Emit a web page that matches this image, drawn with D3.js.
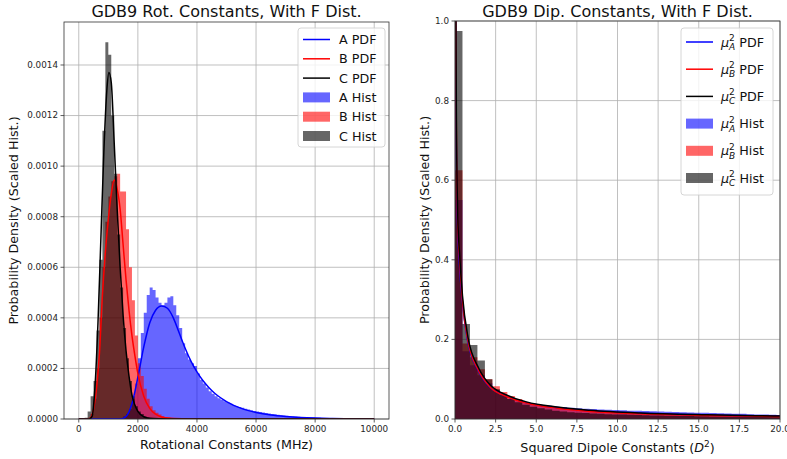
<!DOCTYPE html>
<html>
<head>
<meta charset="utf-8">
<script src="https://cdn.jsdelivr.net/npm/d3@7"></script>
<style>
  body { margin: 0; background: #fff; }
  svg { display: block; font-family: "DejaVu Sans", sans-serif; }
</style>
</head>
<body>
<div id="root"></div>
<script>
// ---- rotational constants: histograms, 100 MHz bins from 0 to 10000 (values x 1e-4) ----
const rotBinWidth = 100;
const rotHistA = [
  0, 0, 0, 0, 0, 0, 0, 0, 0, 0,
  0, 0, 0, 0, 0, 0.1, 0.2, 0.4, 0.8, 1.4,
  2.4, 3.4, 4.2, 4.9, 5.2, 5.1, 4.8, 4.6, 4.5, 4.6,
  4.8, 4.85, 4.5, 4.1, 3.6, 3.0, 2.6, 2.35, 2.2, 2.1,
  1.8, 1.55, 1.4, 1.25, 1.1, 1.0, 0.9, 0.82, 0.76, 0.7,
  0.66, 0.6, 0.55, 0.5, 0.47, 0.44, 0.41, 0.38, 0.35, 0.32,
  0.3, 0.28, 0.26, 0.24, 0.22, 0.2, 0.19, 0.17, 0.15, 0.14,
  0.13, 0.12, 0.11, 0.1, 0.09, 0.08, 0.075, 0.07, 0.06, 0.055,
  0.05, 0.045, 0.04, 0.04, 0.035, 0.03, 0.03, 0.025, 0.02, 0.02,
  0.015, 0.015, 0.01, 0.01, 0.01, 0.01, 0.005, 0.005, 0.005, 0.005
];
const rotHistB = [
  0, 0, 0, 0.05, 0.2, 0.8, 2.0, 4.0, 6.0, 7.8,
  8.8, 9.4, 9.6, 9.7, 9.0, 9.0, 7.5, 6.0, 4.7, 3.3,
  2.2, 1.7, 1.2, 0.8, 0.5, 0.35, 0.25, 0.18, 0.12, 0.08,
  0.06, 0.04, 0.03, 0.02, 0.01, 0.01, 0.005, 0.005, 0.005, 0.005,
  0, 0, 0, 0, 0, 0, 0, 0, 0, 0,
  0, 0, 0, 0, 0, 0, 0, 0, 0, 0,
  0, 0, 0, 0, 0, 0, 0, 0, 0, 0,
  0, 0, 0, 0, 0, 0, 0, 0, 0, 0,
  0, 0, 0, 0, 0, 0, 0, 0, 0, 0,
  0, 0, 0, 0, 0, 0, 0, 0, 0, 0
];
const rotHistC = [
  0, 0, 0.05, 0.3, 0.9, 1.5, 3.5, 6.3, 11.4, 14.9,
  14.4, 12.0, 9.7, 7.3, 5.2, 3.6, 2.4, 1.5, 0.9, 0.5,
  0.3, 0.2, 0.1, 0.05, 0.03, 0.02, 0.01, 0, 0, 0,
  0, 0, 0, 0, 0, 0, 0, 0, 0, 0,
  0, 0, 0, 0, 0, 0, 0, 0, 0, 0,
  0, 0, 0, 0, 0, 0, 0, 0, 0, 0,
  0, 0, 0, 0, 0, 0, 0, 0, 0, 0,
  0, 0, 0, 0, 0, 0, 0, 0, 0, 0,
  0, 0, 0, 0, 0, 0, 0, 0, 0, 0,
  0, 0, 0, 0, 0, 0, 0, 0, 0, 0
];

// fitted F pdf: [MHz, density x 1e-4]
const rotPdfA = [[0, 0], [1400, 0], [1600, 0.1], [1800, 0.6], [2000, 1.65], [2200, 2.85], [2400, 3.8],
  [2600, 4.3], [2800, 4.47], [3000, 4.38], [3200, 4.0], [3400, 3.4], [3600, 2.8], [3800, 2.28],
  [4000, 1.86], [4200, 1.52], [4400, 1.25], [4600, 1.02], [4800, 0.84], [5000, 0.69], [5500, 0.42],
  [6000, 0.26], [6500, 0.16], [7000, 0.1], [7500, 0.06], [8000, 0.035], [8500, 0.02], [9000, 0.012],
  [10000, 0.004]];
const rotPdfB = [[0, 0], [300, 0], [400, 0.05], [500, 0.4], [600, 1.2], [700, 2.6], [800, 4.9],
  [900, 6.6], [1000, 7.9], [1100, 8.9], [1200, 9.45], [1300, 9.1], [1400, 8.3], [1500, 6.9],
  [1600, 5.5], [1700, 4.3], [1800, 3.3], [1900, 2.5], [2000, 1.8], [2200, 0.9], [2400, 0.42],
  [2600, 0.19], [2800, 0.08], [3000, 0.035], [3500, 0.005], [4000, 0], [10000, 0]];
const rotPdfC = [[0, 0], [350, 0], [450, 0.1], [550, 1.3], [650, 3.8], [750, 7.2], [850, 10.6],
  [950, 13.0], [1020, 13.7], [1100, 13.3], [1200, 10.9], [1300, 8.3], [1400, 6.0], [1500, 4.1],
  [1600, 2.7], [1700, 1.7], [1800, 0.95], [1900, 0.55], [2000, 0.3], [2200, 0.09], [2400, 0.025],
  [2700, 0.005], [3000, 0], [10000, 0]];

// ---- squared dipole constants: histograms, 0.46 D^2 bins from 0 ----
const dipBinWidth = 0.46;
const dipHistA = [0.55, 0.17, 0.135, 0.11, 0.09, 0.072, 0.06, 0.051, 0.045, 0.04, 0.037, 0.035, 0.033,
  0.031, 0.03, 0.028, 0.027, 0.026, 0.025, 0.024, 0.023, 0.0225, 0.022, 0.021, 0.0205, 0.02, 0.0195,
  0.019, 0.018, 0.0175, 0.017, 0.0165, 0.016, 0.0155, 0.015, 0.0145, 0.014, 0.0135, 0.013, 0.012,
  0.011, 0.011, 0.0105, 0.01];
const dipHistB = [0.625, 0.19, 0.155, 0.125, 0.1, 0.082, 0.068, 0.058, 0.05, 0.043, 0.038, 0.033, 0.03,
  0.027, 0.025, 0.023, 0.021, 0.02, 0.019, 0.018, 0.017, 0.016, 0.015, 0.0145, 0.014, 0.0135, 0.013,
  0.0125, 0.012, 0.0115, 0.011, 0.0105, 0.01, 0.0095, 0.009, 0.009, 0.0085, 0.0085, 0.008, 0.008,
  0.0075, 0.0075, 0.007, 0.007];
const dipHistC = [0.975, 0.239, 0.186, 0.147, 0.1, 0.075, 0.06, 0.05, 0.042, 0.036, 0.031, 0.027, 0.024,
  0.021, 0.019, 0.017, 0.016, 0.015, 0.014, 0.013, 0.012, 0.0115, 0.011, 0.0105, 0.01, 0.0095, 0.009,
  0.0085, 0.008, 0.008, 0.0075, 0.0075, 0.007, 0.007, 0.0065, 0.0065, 0.006, 0.006, 0.006, 0.0055,
  0.0055, 0.005, 0.005, 0.005];

const dipPdfA = [[0.035, 1.1], [0.07, 0.76], [0.15, 0.5], [0.27, 0.39], [0.44, 0.3], [0.76, 0.2],
  [1.4, 0.124], [2.1, 0.082], [3.1, 0.058], [4.3, 0.042], [6.2, 0.029], [8.2, 0.021], [11.3, 0.015],
  [15.4, 0.01], [19.6, 0.0075], [20.5, 0.007]];
const dipPdfB = [[0.04, 1.1], [0.08, 0.75], [0.16, 0.5], [0.28, 0.4], [0.45, 0.3], [0.78, 0.2],
  [1.45, 0.122], [2.17, 0.08], [3.2, 0.056], [4.4, 0.04], [6.3, 0.027], [8.3, 0.019], [11.4, 0.013],
  [15.5, 0.009], [19.6, 0.0065], [20.5, 0.006]];
const dipPdfC = [[0.045, 1.1], [0.085, 0.76], [0.17, 0.51], [0.29, 0.41], [0.46, 0.31], [0.8, 0.205],
  [1.47, 0.127], [2.2, 0.084], [3.2, 0.06], [4.4, 0.043], [6.3, 0.03], [8.3, 0.022], [11.4, 0.015],
  [15.5, 0.0105], [19.6, 0.0078], [20.5, 0.0072]];

const rotXTicks = [0, 2000, 4000, 6000, 8000, 10000];
const rotYTicks = [0, 0.0002, 0.0004, 0.0006, 0.0008, 0.001, 0.0012, 0.0014];
const dipXTicks = [0, 2.5, 5, 7.5, 10, 12.5, 15, 17.5, 20];
const dipYTicks = [0, 0.2, 0.4, 0.6, 0.8, 1.0];

const colA = "#0000ff", colB = "#ff0000", colC = "#000000";

const svg = d3.select("#root").append("svg")
  .attr("width", 787)
  .attr("height", 459);
svg.append("rect").attr("width", 787).attr("height", 459).attr("fill", "#fff");

function mu(text, sub, rest) {
  text.append("tspan").attr("font-style", "italic").text("μ");
  text.append("tspan").attr("font-size", 9).attr("dy", -5.5).text("2");
  text.append("tspan").attr("font-size", 9).attr("font-style", "italic")
    .attr("dx", -5.7).attr("dy", 9).text(sub);
  text.append("tspan").attr("dy", -3.5).text(rest);
}

function panel(p) {
  const x = d3.scaleLinear().domain(p.xDomain).range([p.left, p.right]);
  const y = d3.scaleLinear().domain(p.yDomain).range([p.bottom, p.top]);
  const g = svg.append("g");

  g.append("clipPath").attr("id", p.id)
    .append("rect")
    .attr("x", p.left).attr("y", p.top)
    .attr("width", p.right - p.left).attr("height", p.bottom - p.top);

  // grid
  const grid = g.append("g").attr("stroke", "#b0b0b0").attr("stroke-width", 0.8);
  grid.selectAll(".gx").data(p.xTicks).join("line")
    .attr("x1", d => x(d)).attr("x2", d => x(d))
    .attr("y1", p.top).attr("y2", p.bottom);
  grid.selectAll(".gy").data(p.yTicks).join("line")
    .attr("y1", d => y(d)).attr("y2", d => y(d))
    .attr("x1", p.left).attr("x2", p.right);

  const plot = g.append("g").attr("clip-path", `url(#${p.id})`);

  // histograms as step areas
  const area = d3.area()
    .x(d => x(d[0]))
    .y0(y(0))
    .y1(d => y(d[1]))
    .curve(d3.curveStepAfter);
  p.hists.forEach(h => {
    const pts = h.values.map((v, i) => [i * p.binWidth, v * p.scale]);
    pts.push([h.values.length * p.binWidth, h.values[h.values.length - 1] * p.scale]);
    plot.append("path").datum(pts)
      .attr("d", area)
      .attr("fill", h.color)
      .attr("fill-opacity", 0.6);
  });

  // pdf curves
  const line = d3.line()
    .x(d => x(d[0]))
    .y(d => y(d[1] * p.scale))
    .curve(d3.curveMonotoneX);
  p.pdfs.forEach(c => {
    plot.append("path").datum(c.values)
      .attr("d", line)
      .attr("fill", "none")
      .attr("stroke", c.color)
      .attr("stroke-width", 1.5);
  });

  // frame
  g.append("rect")
    .attr("x", p.left).attr("y", p.top)
    .attr("width", p.right - p.left).attr("height", p.bottom - p.top)
    .attr("fill", "none").attr("stroke", "#333").attr("stroke-width", 0.8);

  // ticks
  const tk = g.append("g").attr("font-size", 8.8).attr("fill", "#262626");
  p.xTicks.forEach(t => {
    tk.append("line").attr("x1", x(t)).attr("x2", x(t))
      .attr("y1", p.bottom).attr("y2", p.bottom + 3.5)
      .attr("stroke", "#333").attr("stroke-width", 0.8);
    tk.append("text").attr("x", x(t)).attr("y", p.bottom + 12.5)
      .attr("text-anchor", "middle").text(p.xFormat(t));
  });
  p.yTicks.forEach(t => {
    tk.append("line").attr("x1", p.left - 3.5).attr("x2", p.left)
      .attr("y1", y(t)).attr("y2", y(t))
      .attr("stroke", "#333").attr("stroke-width", 0.8);
    tk.append("text").attr("x", p.left - 6).attr("y", y(t)).attr("dy", "0.33em")
      .attr("text-anchor", "end").text(p.yFormat(t));
  });

  // titles
  const cx = (p.left + p.right) / 2;
  g.append("text").attr("x", cx).attr("y", 17).attr("text-anchor", "middle")
    .attr("font-size", 16).attr("fill", "#111").text(p.title);
  const xl = g.append("text").attr("x", cx).attr("y", p.xLabelY).attr("text-anchor", "middle")
    .attr("font-size", 12.7).attr("fill", "#111");
  p.xLabel(xl);
  g.append("text")
    .attr("transform", `translate(${p.yLabelX},${(p.top + p.bottom) / 2}) rotate(-90)`)
    .attr("text-anchor", "middle").attr("font-size", 12.7).attr("fill", "#111")
    .text("Probability Density (Scaled Hist.)");

  // legend
  const L = p.legend;
  const lg = g.append("g");
  lg.append("rect")
    .attr("x", L.x).attr("y", L.y).attr("width", L.w).attr("height", L.h)
    .attr("rx", 3).attr("fill", "#fff").attr("fill-opacity", 0.8)
    .attr("stroke", "#cccccc").attr("stroke-width", 0.8);
  L.items.forEach((it, i) => {
    const ry = L.y + L.first + i * L.step;
    if (it.kind === "line") {
      lg.append("line").attr("x1", L.x + 5).attr("x2", L.x + 32)
        .attr("y1", ry).attr("y2", ry)
        .attr("stroke", it.color).attr("stroke-width", 1.5);
    } else {
      lg.append("rect").attr("x", L.x + 5).attr("y", ry - 5)
        .attr("width", 27).attr("height", 10)
        .attr("fill", it.color).attr("fill-opacity", 0.6);
    }
    const t = lg.append("text").attr("x", L.x + L.textDx).attr("y", ry).attr("dy", "0.36em")
      .attr("font-size", 12.7).attr("fill", "#111");
    it.label(t);
  });
}

panel({
  id: "clipRot",
  left: 64, right: 389, top: 22, bottom: 419,
  xDomain: [-500, 10500], yDomain: [0, 0.00157],
  scale: 1e-4, binWidth: rotBinWidth,
  xTicks: rotXTicks, yTicks: rotYTicks,
  xFormat: d3.format("d"), yFormat: d3.format(".4f"),
  hists: [
    { values: rotHistA, color: colA },
    { values: rotHistB, color: colB },
    { values: rotHistC, color: colC }
  ],
  pdfs: [
    { values: rotPdfA, color: colA },
    { values: rotPdfB, color: colB },
    { values: rotPdfC, color: colC }
  ],
  title: "GDB9 Rot. Constants, With F Dist.",
  xLabelY: 449,
  xLabel: t => t.text("Rotational Constants (MHz)"),
  yLabelX: 18,
  legend: {
    x: 298, y: 28, w: 87, h: 119, first: 11.5, step: 19.3, textDx: 41,
    items: [
      { kind: "line", color: colA, label: t => t.text("A PDF") },
      { kind: "line", color: colB, label: t => t.text("B PDF") },
      { kind: "line", color: colC, label: t => t.text("C PDF") },
      { kind: "patch", color: colA, label: t => t.text("A Hist") },
      { kind: "patch", color: colB, label: t => t.text("B Hist") },
      { kind: "patch", color: colC, label: t => t.text("C Hist") }
    ]
  }
});

panel({
  id: "clipDip",
  left: 455, right: 780, top: 21, bottom: 419,
  xDomain: [0, 20], yDomain: [0, 1],
  scale: 1, binWidth: dipBinWidth,
  xTicks: dipXTicks, yTicks: dipYTicks,
  xFormat: d3.format(".1f"), yFormat: d3.format(".1f"),
  hists: [
    { values: dipHistA, color: colA },
    { values: dipHistB, color: colB },
    { values: dipHistC, color: colC }
  ],
  pdfs: [
    { values: dipPdfA, color: colA },
    { values: dipPdfB, color: colB },
    { values: dipPdfC, color: colC }
  ],
  title: "GDB9 Dip. Constants, With F Dist.",
  xLabelY: 452,
  xLabel: t => {
    t.append("tspan").text("Squared Dipole Constants (");
    t.append("tspan").attr("font-style", "italic").text("D");
    t.append("tspan").attr("font-size", 9).attr("dy", -5).text("2");
    t.append("tspan").attr("dy", 5).text(")");
  },
  yLabelX: 429,
  legend: {
    x: 681, y: 28, w: 92, h: 167, first: 14, step: 27.2, textDx: 40,
    items: [
      { kind: "line", color: colA, label: t => mu(t, "A", " PDF") },
      { kind: "line", color: colB, label: t => mu(t, "B", " PDF") },
      { kind: "line", color: colC, label: t => mu(t, "C", " PDF") },
      { kind: "patch", color: colA, label: t => mu(t, "A", " Hist") },
      { kind: "patch", color: colB, label: t => mu(t, "B", " Hist") },
      { kind: "patch", color: colC, label: t => mu(t, "C", " Hist") }
    ]
  }
});
</script>
</body>
</html>
